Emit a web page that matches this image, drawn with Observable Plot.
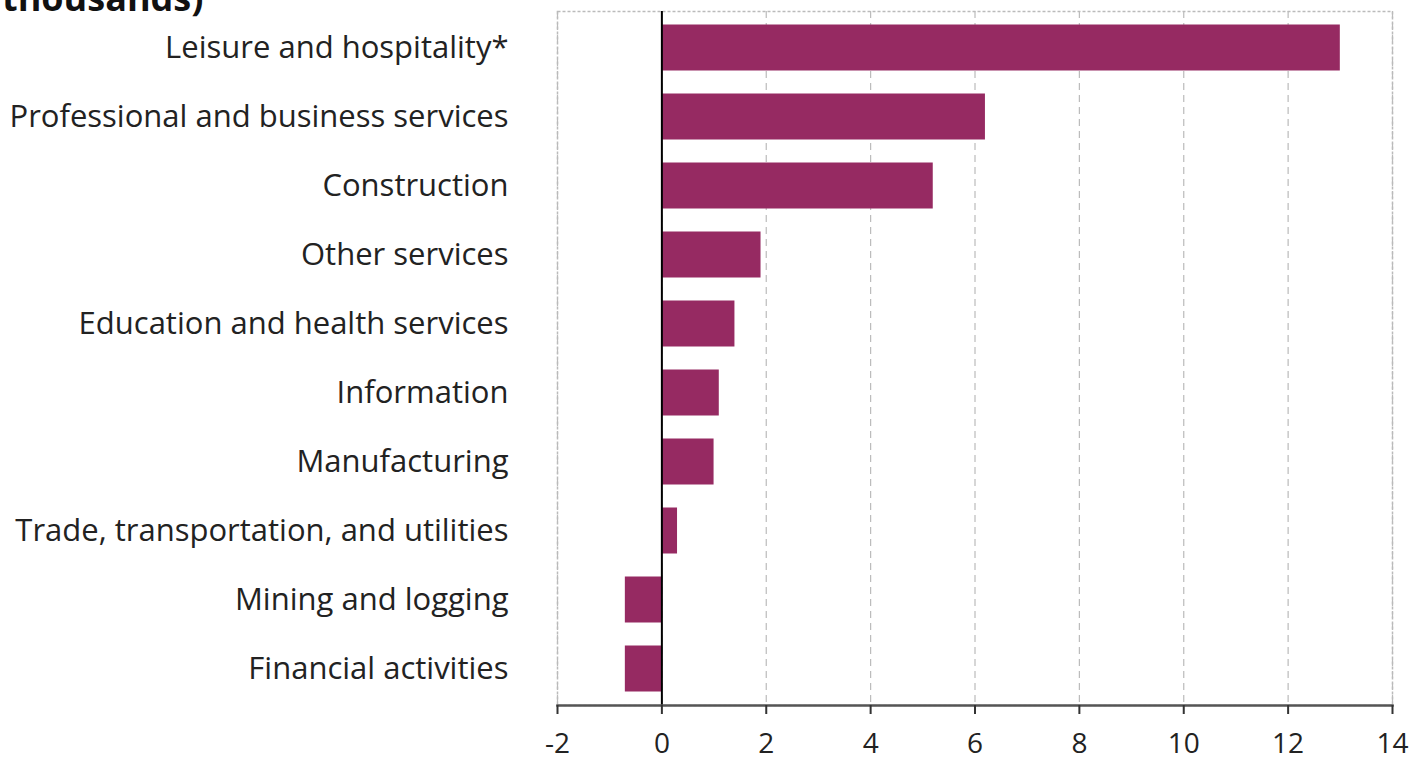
<!DOCTYPE html>
<html><head><meta charset="utf-8">
<script src="https://cdn.jsdelivr.net/npm/d3@7"></script>
<script src="https://cdn.jsdelivr.net/npm/@observablehq/plot@0.6"></script>
<style>
body{margin:0;background:#fff;overflow:hidden;font-family:"Open Sans",sans-serif;}
#wrap{position:relative;width:1424px;height:764px;overflow:hidden;}
#title{position:absolute;left:2px;top:-22px;line-height:40px;font-family:"Open Sans",sans-serif;font-weight:bold;font-size:36px;color:#111;white-space:nowrap;}
#chart{position:absolute;left:0;top:0;}
</style></head>
<body><div id="wrap"><div id="chart"></div><div id="title">thousands)</div></div>
<script>
const industries = ["Leisure and hospitality*","Professional and business services","Construction","Other services","Education and health services","Information","Manufacturing","Trade, transportation, and utilities","Mining and logging","Financial activities"];
const changes = [13.0, 6.2, 5.2, 1.9, 1.4, 1.1, 1.0, 0.3, -0.7, -0.7];
const xTicks = [-2, 0, 2, 4, 6, 8, 10, 12, 14];
const data = industries.map((name, i) => ({name, value: changes[i]}));
const chart = Plot.plot({
  width: 1424, height: 764,
  marginLeft: 557, marginRight: 32, marginTop: 11, marginBottom: 59,
  style: {fontFamily: "'Open Sans', sans-serif", fontSize: "31px", color: "#222", background: "#fff"},
  x: {domain: [-2, 14], ticks: xTicks, label: null},
  y: {domain: industries, padding: 0, label: null},
  marks: [
    Plot.gridX(xTicks, {stroke: "#bbb", strokeOpacity: 1, strokeDasharray: "7,5", strokeWidth: 1.2}),
    Plot.frame({stroke: "#bbb", strokeDasharray: "3,2", strokeWidth: 1.5}),
    Plot.barX(data, {x: "value", y: "name", fill: "#962a62", insetTop: 11.5, insetBottom: 11.5}),
    Plot.ruleX([0], {stroke: "#000", strokeWidth: 2}),
    Plot.frame({anchor: "bottom", stroke: "#555", strokeWidth: 2.5}),
    Plot.axisX(xTicks, {tickSize: 9, tickPadding: 19, fontSize: 28, stroke: "#333", strokeWidth: 2, label: null, tickFormat: d => String(d)}),
    Plot.axisY({tickSize: 0, tickPadding: 49, fontSize: 31, label: null})
  ]
});
document.getElementById("chart").appendChild(chart);
</script></body></html>
